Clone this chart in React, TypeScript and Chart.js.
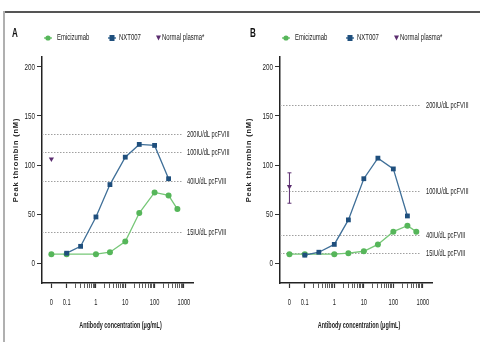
import React, { useEffect, useRef } from "react";
import { Chart, registerables } from "chart.js";
Chart.register(...registerables);

// ---- data ----
const xMajorValues = [0, 0.1, 1, 10, 100, 1000];
const xMajorLabels = ["0", "0.1", "1", "10", "100", "1000"];
const yTickValues = [0, 50, 100, 150, 200];

const emiConc = [0, 0.1, 1, 3, 10, 30, 100, 300, 600];
const nxtConc = [0.1, 0.3, 1, 3, 10, 30, 100, 300];

const emiA = [9, 9, 9, 11, 22, 51, 72, 69, 55];
const nxtA = [10, 17, 47, 80, 108, 121, 120, 86];
const plasmaA = [106];
const plasmaErrA: number[] = [];
const refLevelsA = [132, 113, 84, 32];

const emiB = [9, 9, 9, 10, 12, 19, 32, 38, 32];
const nxtB = [8, 11, 19, 44, 86, 107, 96, 48];
const plasmaB = [78];
const plasmaErrB = [61, 92];
const refLevelsB = [161, 73, 29, 10];

const refLabels = ["200IU/dL pcFVIII", "100IU/dL pcFVIII", "40IU/dL pcFVIII", "15IU/dL pcFVIII"];
const legendLabels = ["Emicizumab", "NXT007", "Normal plasma*"];

// ---- style ----
const ZERO_POS = -1.52;
const X_MIN = -1.84;
const X_MAX = 3.31;
const Y_MIN = -20.4;
const Y_MAX = 210.2;
const SANS = '"Liberation Sans", Arial, sans-serif';
const GREEN = "#56b65a";
const GREEN_LINE = "#76c777";
const BLUE = "#1f4f7d";
const BLUE_LINE = "#3f6f98";
const PURPLE = "#5b2d6f";
const TEXT = "#222";

function pos(c: number) {
  return c === 0 ? ZERO_POS : Math.log10(c);
}

const minorVals: number[] = [];
for (let n = -1; n <= 2; n++) for (let k = 2; k <= 9; k++) minorVals.push(Math.log10(k * Math.pow(10, n)));
const majorPos = xMajorValues.map(pos);

type Panel = {
  letter: string;
  emi: number[];
  nxt: number[];
  plasma: number[];
  plasmaErr: number[];
  refs: number[];
  left: number;
  plotLeft: number;
  plotRight: number;
  yTitleX: number;
};

const panelA: Panel = { letter: "A", emi: emiA, nxt: nxtA, plasma: plasmaA, plasmaErr: plasmaErrA, refs: refLevelsA, left: 0, plotLeft: 42, plotRight: 193, yTitleX: 16 };
const panelB: Panel = { letter: "B", emi: emiB, nxt: nxtB, plasma: plasmaB, plasmaErr: plasmaErrB, refs: refLevelsB, left: 240, plotLeft: 40, plotRight: 192, yTitleX: 9 };

// draw horizontally-compressed text
function narrowText(ctx: CanvasRenderingContext2D, text: string, x: number, y: number, sx: number, align: "left" | "center" | "right") {
  ctx.save();
  ctx.translate(x, y);
  ctx.scale(sx, 1);
  ctx.textAlign = align;
  ctx.fillText(text, 0, 0);
  ctx.restore();
}

function makeDeco(p: Panel) {
  return {
    id: "deco" + p.letter,
    beforeDatasetsDraw(chart: any) {
      const { ctx, chartArea, scales } = chart;
      const y = scales.y;
      const x = scales.x;
      ctx.save();
      // reference lines
      ctx.strokeStyle = "#a0a0a0";
      ctx.lineWidth = 1;
      ctx.setLineDash([1.5, 1.5]);
      ctx.font = `9px ${SANS}`;
      ctx.fillStyle = TEXT;
      ctx.textBaseline = "middle";
      p.refs.forEach((v, i) => {
        const py = Math.round(y.getPixelForValue(v)) + 0.5;
        ctx.beginPath();
        ctx.moveTo(chartArea.left, py);
        ctx.lineTo(chartArea.right - 11, py);
        ctx.stroke();
        narrowText(ctx, refLabels[i], chartArea.right - 6, py, 0.63, "left");
      });
      ctx.setLineDash([]);
      // plasma error bar
      if (p.plasmaErr.length === 2) {
        const px = x.getPixelForValue(pos(0));
        const y1 = y.getPixelForValue(p.plasmaErr[0]);
        const y2 = y.getPixelForValue(p.plasmaErr[1]);
        ctx.strokeStyle = PURPLE;
        ctx.lineWidth = 1;
        ctx.beginPath();
        ctx.moveTo(px, y1);
        ctx.lineTo(px, y2);
        ctx.moveTo(px - 2, y1);
        ctx.lineTo(px + 2, y1);
        ctx.moveTo(px - 2, y2);
        ctx.lineTo(px + 2, y2);
        ctx.stroke();
      }
      ctx.restore();
    },
    afterDraw(chart: any) {
      const { ctx, chartArea, scales } = chart;
      const L = chartArea.left;
      ctx.save();
      ctx.textBaseline = "middle";
      // tick labels
      ctx.fillStyle = TEXT;
      ctx.font = `9.5px ${SANS}`;
      xMajorValues.forEach((v, i) => {
        narrowText(ctx, xMajorLabels[i], scales.x.getPixelForValue(pos(v)), 302, 0.6, "center");
      });
      yTickValues.forEach((v) => {
        narrowText(ctx, String(v), L - 7, scales.y.getPixelForValue(v), 0.66, "right");
      });
      // panel letter
      ctx.fillStyle = "#111";
      ctx.font = `bold 13px ${SANS}`;
      narrowText(ctx, p.letter, L - 30, 33, 0.62, "left");
      // legend
      const ly = 38;
      ctx.font = `8.5px ${SANS}`;
      // green
      ctx.strokeStyle = GREEN_LINE;
      ctx.lineWidth = 1.5;
      ctx.beginPath();
      ctx.moveTo(L + 2, ly);
      ctx.lineTo(L + 10, ly);
      ctx.stroke();
      ctx.fillStyle = GREEN;
      ctx.beginPath();
      ctx.arc(L + 6, ly, 2.6, 0, Math.PI * 2);
      ctx.fill();
      ctx.fillStyle = TEXT;
      narrowText(ctx, legendLabels[0], L + 15, ly, 0.7, "left");
      // blue
      ctx.strokeStyle = BLUE_LINE;
      ctx.beginPath();
      ctx.moveTo(L + 66, ly);
      ctx.lineTo(L + 74, ly);
      ctx.stroke();
      ctx.fillStyle = BLUE;
      ctx.fillRect(L + 67.5, ly - 3, 5, 6);
      ctx.fillStyle = TEXT;
      narrowText(ctx, legendLabels[1], L + 77, ly, 0.7, "left");
      // purple
      ctx.fillStyle = PURPLE;
      ctx.beginPath();
      ctx.moveTo(L + 114, ly - 2.5);
      ctx.lineTo(L + 119, ly - 2.5);
      ctx.lineTo(L + 116.5, ly + 2.5);
      ctx.closePath();
      ctx.fill();
      ctx.fillStyle = TEXT;
      narrowText(ctx, legendLabels[2], L + 120, ly, 0.7, "left");
      // x title
      ctx.font = `bold 8.5px ${SANS}`;
      narrowText(ctx, "Antibody concentration (\u03bcg/mL)", (chartArea.left + chartArea.right) / 2 + 3, 326, 0.64, "center");
      // y title
      ctx.translate(p.yTitleX, 160);
      ctx.rotate(-Math.PI / 2);
      ctx.font = `bold 7.5px ${SANS}`;
      ctx.textAlign = "center";
      (ctx as any).letterSpacing = "0.8px";
      ctx.fillText("Peak thrombin (nM)", 0, 0);
      ctx.restore();
    },
  };
}

function PanelChart({ p }: { p: Panel }) {
  const ref = useRef<HTMLCanvasElement | null>(null);
  useEffect(() => {
    if (!ref.current) return;
    const chart = new Chart(ref.current, {
      type: "line",
      data: {
        datasets: [
          {
            label: legendLabels[1],
            data: nxtConc.map((c, i) => ({ x: pos(c), y: p.nxt[i] })),
            borderColor: BLUE_LINE,
            backgroundColor: BLUE,
            borderWidth: 1.3,
            pointStyle: "rect",
            pointRadius: 3.4,
            pointBorderWidth: 0,
            order: 0,
          },
          {
            label: legendLabels[0],
            data: emiConc.map((c, i) => ({ x: pos(c), y: p.emi[i] })),
            borderColor: GREEN_LINE,
            backgroundColor: GREEN,
            borderWidth: 1.3,
            pointStyle: "circle",
            pointRadius: 3,
            pointBorderWidth: 0,
            order: 1,
          },
          {
            label: legendLabels[2],
            data: p.plasma.map((v) => ({ x: pos(0), y: v })),
            borderColor: PURPLE,
            backgroundColor: PURPLE,
            showLine: false,
            pointStyle: "triangle",
            rotation: 180,
            pointRadius: 3,
            pointBorderWidth: 0,
            order: 2,
          },
        ] as any,
      },
      options: {
        responsive: false,
        animation: false,
        devicePixelRatio: 1,
        layout: { padding: { top: 57, left: 0, bottom: 0, right: 240 - p.plotRight } },
        plugins: { legend: { display: false }, tooltip: { enabled: false } },
        scales: {
          x: {
            type: "linear",
            min: X_MIN,
            max: X_MAX,
            afterFit: (s: any) => {
              s.height = 59;
            },
            afterBuildTicks: (s: any) => {
              s.ticks = [...majorPos, ...minorVals].sort((a, b) => a - b).map((v) => ({ value: v }));
            },
            ticks: { display: false, autoSkip: false },
            grid: {
              drawOnChartArea: false,
              drawTicks: true,
              tickLength: 5,
              tickColor: "#333",
              tickWidth: (c: any) => (majorPos.some((m) => Math.abs(m - c.tick.value) < 1e-6) ? 1.2 : 0.8),
            },
            border: { color: "#222", width: 1.5 },
          },
          y: {
            type: "linear",
            min: Y_MIN,
            max: Y_MAX,
            afterFit: (s: any) => {
              s.width = p.plotLeft;
            },
            afterBuildTicks: (s: any) => {
              s.ticks = yTickValues.map((v) => ({ value: v }));
            },
            ticks: { display: false },
            grid: { drawOnChartArea: false, drawTicks: true, tickLength: 5, tickColor: "#333" },
            border: { color: "#222", width: 1.5 },
          },
        },
      } as any,
      plugins: [makeDeco(p)],
    });
    return () => chart.destroy();
  }, [p]);
  return (
    <canvas
      ref={ref}
      width={240}
      height={342}
      style={{ position: "absolute", left: p.left, top: 0, width: 240, height: 342 }}
    />
  );
}

export default function App() {
  return (
    <div style={{ position: "fixed", left: 0, top: 0, width: 480, height: 342, background: "#fff", overflow: "hidden" }}>
      <PanelChart p={panelA} />
      <PanelChart p={panelB} />
      <div style={{ position: "absolute", left: 5, top: 11, width: 475, height: 1.5, background: "#555" }} />
      <div style={{ position: "absolute", left: 3, top: 11, width: 2, height: 331, background: "#b0b0b0" }} />
    </div>
  );
}
